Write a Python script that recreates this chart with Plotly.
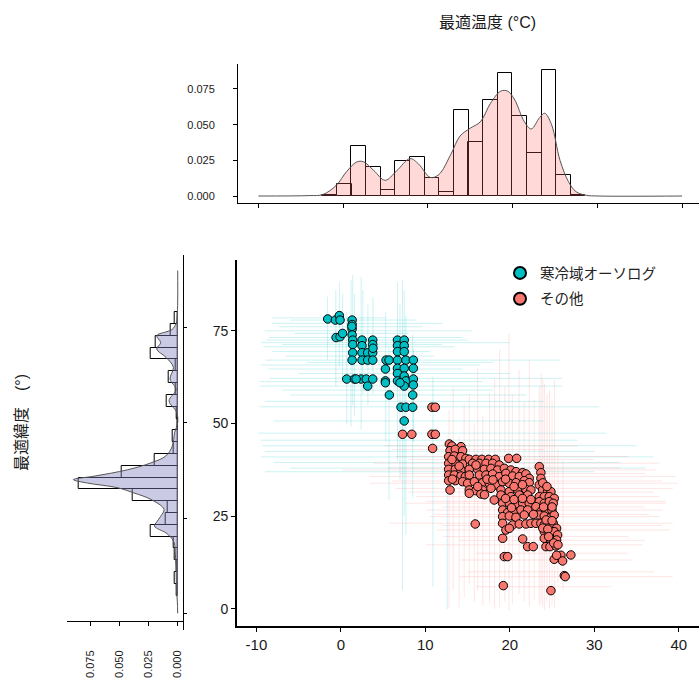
import plotly.graph_objects as go

# ---------------- data ----------------
cold_name = "寒冷域オーソログ"
other_name = "その他"

teal_x = [-1.56, -0.65, -0.18, -0.1, 1.33, 1.33, 1.33, -0.57, -0.1, 0.2, 1.33, 1.4, 2.5, 3.77,
          1.4, 2.5, 3.77, 6.7, 7.5, 6.7, 7.5, 1.4, 2.5, 3.17, 3.77, 1.33, 2.5, 3.17, 3.77, 5.35,
          6.7, 7.7, 8.58, 5.27, 6.7, 7.5, 8.58, 6.7, 7.5, 0.69, 1.6, 2.4, 3.0, 3.77, 5.27, 6.7,
          7.7, 8.58, 3.17, 7.5, 8.58, 5.74, 8.5, 7.12, 7.7, 8.5, 7.5, 1.3, 6.7, 7.5, 5.7, 1.8,
          3.8, 7.0, 5.27]
teal_y = [78.2, 77.9, 79.1, 77.9, 77.9, 76.7, 75.5, 73.2, 73.4, 74.3, 73.9, 72.5, 72.5, 72.5,
          71.3, 71.0, 71.3, 72.5, 72.5, 71.0, 71.0, 69.1, 69.1, 69.1, 69.1, 67.1, 67.1, 67.1, 67.1, 67.1,
          67.1, 67.1, 67.1, 64.7, 64.9, 64.9, 64.9, 63.5, 62.8, 62.0, 62.0, 62.0, 62.0, 62.0, 61.5, 61.5,
          61.5, 62.0, 60.1, 60.1, 60.4, 57.7, 57.7, 54.4, 54.4, 54.4, 50.7, 76.2, 69.4, 69.4, 67.1, 62.0,
          70.3, 61.0, 61.0]

red_x = [10.78, 11.18, 10.78, 11.18, 7.3, 8.4, 10.86,
         12.84, 13.15, 14.22, 12.92, 13.55, 14.41,
         12.76, 13.43, 14.22, 14.81,
         12.76, 13.63, 14.41,
         12.76, 13.55, 14.22,
         12.76, 13.43, 14.22, 14.73,
         12.76, 13.55, 14.41,
         12.92,
         15.2, 15.99, 16.7, 17.49, 18.28, 19.86, 20.81,
         15.6, 16.39, 17.18, 17.97, 18.75,
         15.2, 16.19, 16.98, 17.77, 18.56, 19.35, 20.13, 20.73, 21.52,
         15.2, 16.39, 17.18, 17.97, 18.75, 19.54, 20.33, 21.12, 21.91, 22.3,
         15.01, 15.8, 16.78, 17.57, 18.36, 19.15, 19.94, 20.73, 21.71, 22.3,
         15.2, 15.99, 16.78, 17.77, 18.95, 19.94, 20.92, 21.91, 22.5,
         15.2, 16.58, 18.16, 18.95, 20.13, 21.12, 22.11,
         23.49, 23.68, 23.68, 23.49, 23.88, 24.47, 24.87,
         23.49, 24.08, 24.67, 25.26,
         23.49, 24.08, 24.67, 25.14,
         19.15, 19.94, 20.73, 21.52, 22.3, 23.09,
         19.15, 19.74, 20.53, 21.32, 22.11, 21.71,
         23.68, 24.28, 24.99,
         19.15, 19.94, 20.73,
         23.49, 24.08, 24.87, 25.26,
         19.15, 20.33, 21.12, 21.91, 22.5, 23.09,
         23.68, 24.08, 24.67, 25.14, 25.54,
         19.54, 19.94,
         24.08, 24.67, 25.26, 25.66,
         19.15, 24.08, 24.87, 25.54,
         21.52,
         22.11, 22.78, 24.28, 24.75, 25.46,
         19.35, 19.74,
         15.91,
         25.26, 26.05, 26.25, 27.23, 25.54,
         26.45, 26.56,
         19.23, 24.87,
         13.15, 14.0, 13.2, 16.0, 17.3, 18.0, 19.5, 20.5, 21.5, 16.2, 17.0, 19.5, 20.5, 21.5,
         22.5, 23.9, 24.4, 24.0, 25.0, 24.3, 25.0, 23.9, 24.5, 20.2, 22.8, 24.6, 25.2, 25.7]
red_y = [54.4, 54.4, 47.1, 47.1, 47.1, 47.1, 43.3,
         44.48, 43.94, 43.76, 42.68, 43.04, 42.68,
         41.06, 41.24, 41.06, 40.61,
         39.27, 39.09, 39.09,
         37.65, 37.65, 37.47,
         36.12, 36.12, 35.85, 35.67,
         34.59, 34.59, 34.32,
         32.08,
         40.34, 40.34, 40.34, 40.34, 40.34, 40.61, 40.61,
         39.27, 39.27, 39.27, 39.27, 38.82,
         37.65, 37.65, 37.65, 37.92, 37.47, 37.92, 37.47, 37.02, 36.75,
         36.12, 36.12, 36.12, 36.39, 35.67, 36.57, 35.85, 35.67, 36.39, 35.22,
         33.87, 34.32, 34.05, 33.87, 33.43, 34.32, 33.87, 34.05, 34.59, 34.05,
         32.08, 31.9, 32.08, 32.53, 32.08, 31.63, 32.08, 32.26, 32.08,
         31.18, 31.0, 29.38, 30.73, 30.28, 30.73, 30.73,
         38.37, 36.75, 35.22, 33.43, 32.08, 31.63, 31.63,
         30.28, 30.28, 30.28, 29.83,
         28.93, 28.48, 28.93, 28.48,
         28.48, 28.48, 28.3, 28.48, 28.48, 27.59,
         26.69, 25.97, 26.24, 26.69, 26.69, 25.34,
         26.24, 26.69, 26.69,
         24.89, 25.07, 24.71,
         25.34, 25.07, 24.71, 25.34,
         23.09, 22.64, 22.91, 22.91, 23.09, 23.09,
         23.09, 22.64, 22.19, 23.09, 21.74,
         21.29, 21.74,
         20.85, 20.4, 20.85, 19.95,
         19.05, 19.05, 18.6, 18.6,
         18.87,
         16.8, 16.8, 16.8, 16.8, 16.98,
         14.11, 14.11,
         22.91,
         13.39, 14.47, 12.94, 14.56, 14.47,
         8.99, 8.72,
         6.29, 4.94,
         40.3, 38.5, 35.0, 38.8, 35.0, 34.8, 35.0, 33.0, 33.5, 33.0, 30.8, 29.8, 29.5, 29.8,
         29.5, 34.0, 33.0, 27.5, 27.5, 24.0, 23.8, 21.8, 21.5, 27.3, 25.5, 19.5, 17.8, 17.3]

# faint error bars (horizontal: y, low, high ; vertical: x, low, high)
teal_h_y = [78.5, 77.9, 77.0, 76.1, 75.0, 74.3, 73.2, 72.5, 71.8, 71.3, 70.7, 69.4, 68.2, 67.1, 66.5,
            65.8, 64.7, 63.5, 62.2, 61.3, 60.1, 59.0, 57.7, 56.0, 54.5, 50.7, 47.4, 45.5, 44.0, 42.5,
            41.0, 39.5, 38.0, 37.0]
teal_h_lo = [-8.1, -6.0, -8.2, -7.3, -9.0, -5.5, -8.5, -8.9, -9.5, -7.0, -9.2, -8.1, -6.5, -8.9, -4.0,
             -9.5, -8.6, -5.0, -8.5, -9.6, -9.6, -7.0, -6.0, -9.0, -9.6, -8.0, -9.8, -9.5, -9.3, -9.0,
             -9.5, -8.0, -6.0, -9.0]
teal_h_hi = [5.3, 9.0, 12.0, 9.7, 15.5, 8.0, 14.4, 15.0, 20.0, 12.0, 13.5, 10.5, 11.0, 25.9, 18.0,
             16.5, 14.4, 20.0, 26.2, 16.8, 26.2, 18.0, 22.0, 24.0, 30.6, 24.0, 31.4, 28.0, 35.0, 30.0,
             37.0, 33.0, 36.0, 30.0]
teal_v_x = [-1.6, -0.6, -0.18, 0.2, 0.7, 1.2, 1.4, 1.6, 2.4, 2.6, 3.2, 3.8, 5.3, 5.7, 6.7, 7.0, 7.3,
            7.5, 7.7, 8.5, 8.6, 10.9, 12.6]
teal_v_lo = [67.1, 60.0, 65.3, 62.0, 50.0, 49.2, 55.0, 52.0, 48.3, 58.0, 55.0, 58.0, 45.0, 29.4, 40.0,
             35.0, 5.1, 25.0, 20.0, 30.0, 45.0, 6.0, 0.0]
teal_v_hi = [84.2, 86.0, 88.2, 85.0, 80.0, 88.7, 90.0, 85.0, 89.6, 86.0, 82.0, 84.0, 80.0, 70.7, 88.0,
             82.0, 88.7, 86.0, 79.0, 74.0, 70.0, 62.6, 34.0]

red_h_y = [44.0, 43.0, 41.1, 40.3, 39.3, 38.0, 37.5, 36.5, 35.7, 34.5, 33.9, 32.5, 31.5, 30.3, 29.0,
           28.5, 27.5, 26.7, 25.5, 24.9, 23.1, 22.5, 21.3, 19.5, 18.5, 17.3, 15.0, 13.2, 10.0, 8.7, 6.0]
red_h_lo = [5.0, 6.0, 6.5, 8.0, 3.8, 5.5, 0.2, 7.0, 3.4, 6.0, 3.4, 6.5, 8.0, 8.9, 10.0,
            7.7, 12.0, 10.1, 11.0, 10.5, 5.7, 12.0, 11.3, 12.1, 14.0, 10.1, 16.0, 14.0, 15.0, 14.0, 16.0]
red_h_hi = [28.0, 24.0, 34.0, 30.0, 37.7, 33.0, 37.3, 36.0, 39.7, 38.0, 39.9, 39.3, 37.0, 37.7, 38.5,
            38.5, 36.0, 38.1, 36.5, 37.7, 39.3, 38.0, 38.9, 34.1, 36.0, 35.7, 34.0, 34.5, 37.0, 39.3, 32.0]
red_v_x = [12.8, 13.3, 14.0, 14.6, 15.2, 15.8, 16.2, 16.8, 17.6, 18.2, 18.8, 19.4, 19.9, 20.3, 21.1,
           21.7, 22.3, 22.9, 23.5, 23.7, 23.9, 24.1, 24.4, 24.7, 25.0, 25.3, 25.7, 26.3]
red_v_lo = [0.2, 5.0, 0.5, 3.0, 6.7, 2.0, 5.0, 1.0, 1.5, 0.0, 0.5, 2.0, -0.3, 1.5, 4.0,
            2.0, 0.6, 2.5, 1.0, 1.5, 0.5, -0.3, 2.0, 0.2, 1.0, 0.2, 7.0, 5.0]
red_v_hi = [53.6, 60.0, 46.5, 55.0, 58.0, 50.0, 65.0, 52.0, 58.0, 62.0, 70.0, 60.0, 74.3, 58.0, 64.5,
            56.0, 67.0, 56.3, 60.0, 63.5, 62.0, 60.8, 58.0, 59.0, 56.0, 61.7, 43.0, 40.0]

# marginal histogram of optimal temperature (density scale)
temp_bin_centers = [-1.60, 0.13, 1.85, 3.58, 5.31, 7.03, 8.76, 10.48, 12.21, 13.94, 15.66, 17.39,
                    19.11, 20.84, 22.57, 24.29, 26.02, 27.74]
temp_bin_width = 1.726
temp_hist = [0.0008, 0.0086, 0.035, 0.0206, 0.004, 0.0245, 0.0276, 0.0129, 0.003, 0.060, 0.038,
             0.067, 0.0864, 0.056, 0.030, 0.088, 0.0145, 0.0005]
temp_dens_x = [-10, -4.0, -2.4, -0.8, 0.4, 1.6, 2.4, 3.6, 4.96, 6.3, 7.9, 8.9, 10.3, 11.3, 12.7,
               13.8, 15.0, 16.2, 17.4, 18.6, 19.4, 20.2, 21.4, 22.2, 23.2, 23.8, 24.6, 25.6, 26.6,
               27.5, 28.7, 30.1, 40]
temp_dens = [0, 0.0003, 0.001, 0.0075, 0.017, 0.0238, 0.024, 0.018, 0.011, 0.0175, 0.0262, 0.0225,
             0.013, 0.015, 0.029, 0.042, 0.0475, 0.052, 0.065, 0.0735, 0.0735, 0.068, 0.052, 0.047,
             0.055, 0.058, 0.050, 0.025, 0.010, 0.003, 0.0005, 0, 0]

# marginal histogram of optimal latitude (density scale)
lat_bin_centers = [6.15, 9.26, 12.36, 15.47, 18.57, 21.67, 24.78, 27.88, 30.99, 34.09, 37.19, 40.30,
                   43.40, 46.50, 49.61, 52.71, 55.82, 58.92, 62.02, 65.13, 68.23, 71.34, 74.44, 77.54]
lat_bin_width = 3.104
lat_hist = [0.0009, 0.0023, 0.001, 0.0026, 0.0037, 0.0235, 0.010, 0.009, 0.0385, 0.0855, 0.048,
            0.020, 0.0037, 0.0045, 0.0003, 0.0005, 0.0092, 0.0015, 0.0075, 0.0016, 0.0228, 0.0185,
            0.006, 0.003]
lat_dens_y = [0, 3, 6.2, 9, 12.4, 15.5, 18.5, 20, 21.1, 22.9, 24, 25.5, 27.3, 29.9, 31.6, 33.0, 34.2,
              35.1, 36.0, 37.7, 39.5, 41.3, 43.9, 47.5, 50.1, 52.8, 55.8, 58.8, 61.5, 64.6, 67.2,
              69.4, 71.1, 72.9, 74.5, 76, 78, 82, 90]
lat_dens = [0, 0.0003, 0.001, 0.0012, 0.0014, 0.002, 0.003, 0.006, 0.010, 0.020, 0.018, 0.0146,
            0.0117, 0.023, 0.0375, 0.052, 0.0776, 0.0897, 0.072, 0.043, 0.023, 0.0103, 0.0046,
            0.0026, 0.0, 0.0009, 0.0074, 0.0014, 0.0066, 0.0037, 0.010, 0.018, 0.0146, 0.018,
            0.005, 0.0015, 0.0005, 0, 0]

x_ticks = [-10, 0, 10, 20, 30, 40]
x_tick_text = ["-10", "0", "10", "20", "30", "40"]
y_ticks = [0, 25, 50, 75]
dens_ticks = [0, 0.025, 0.05, 0.075]
dens_tick_text = ["0.000", "0.025", "0.050", "0.075"]

# ---------------- style ----------------
TEAL = "#00BFC4"
RED = "#F8766D"
W, H = 699, 682
FONT = "Liberation Sans, Arial, Noto Sans CJK JP, sans-serif"
CJK = "Noto Sans CJK JP, Liberation Sans, sans-serif"


def px(v):
    return v / W


def py(v):
    return 1 - v / H


fig = go.Figure()


def err_h(ys, lo, hi, color):
    return go.Scatter(
        x=[(a + b) / 2 for a, b in zip(lo, hi)], y=ys, mode="markers",
        marker=dict(size=1, opacity=0), showlegend=False, hoverinfo="skip",
        error_x=dict(type="data", array=[(b - a) / 2 for a, b in zip(lo, hi)],
                     color=color, thickness=1, width=0),
        xaxis="x", yaxis="y")


def err_v(xs, lo, hi, color):
    return go.Scatter(
        x=xs, y=[(a + b) / 2 for a, b in zip(lo, hi)], mode="markers",
        marker=dict(size=1, opacity=0), showlegend=False, hoverinfo="skip",
        error_y=dict(type="data", array=[(b - a) / 2 for a, b in zip(lo, hi)],
                     color=color, thickness=1, width=0),
        xaxis="x", yaxis="y")


TEAL_E = "rgba(0,191,196,0.2)"
RED_E = "rgba(248,118,109,0.18)"
fig.add_trace(err_h(teal_h_y, teal_h_lo, teal_h_hi, TEAL_E))
fig.add_trace(err_v(teal_v_x, teal_v_lo, teal_v_hi, TEAL_E))
fig.add_trace(err_h(red_h_y, red_h_lo, red_h_hi, RED_E))
fig.add_trace(err_v(red_v_x, red_v_lo, red_v_hi, RED_E))

fig.add_trace(go.Scatter(
    x=teal_x, y=teal_y, mode="markers", name=cold_name, legendgroup="a",
    marker=dict(color=TEAL, size=8.5, line=dict(color="black", width=1)),
    xaxis="x", yaxis="y"))
fig.add_trace(go.Scatter(
    x=red_x, y=red_y, mode="markers", name=other_name, legendgroup="b",
    marker=dict(color=RED, size=8.5, line=dict(color="black", width=1)),
    xaxis="x", yaxis="y"))

# top marginal
fig.add_trace(go.Bar(
    x=temp_bin_centers, y=temp_hist, width=temp_bin_width,
    marker=dict(color="rgba(0,0,0,0)", line=dict(color="black", width=1)),
    showlegend=False, xaxis="x2", yaxis="y2"))
fig.add_trace(go.Scatter(
    x=temp_dens_x, y=temp_dens, mode="lines", fill="tozeroy",
    fillcolor="rgba(255,100,100,0.25)", line=dict(color="#555555", width=1, shape="spline"),
    showlegend=False, xaxis="x2", yaxis="y2"))

# left marginal
fig.add_trace(go.Bar(
    y=lat_bin_centers, x=lat_hist, width=lat_bin_width, orientation="h",
    marker=dict(color="rgba(0,0,0,0)", line=dict(color="black", width=1)),
    showlegend=False, xaxis="x3", yaxis="y3"))
fig.add_trace(go.Scatter(
    x=lat_dens, y=lat_dens_y, mode="lines", fill="tozerox",
    fillcolor="rgba(128,128,192,0.42)", line=dict(color="#555555", width=1, shape="spline"),
    showlegend=False, xaxis="x3", yaxis="y3"))

axis_common = dict(showgrid=False, zeroline=False, showline=True, linecolor="black",
                   ticks="outside", tickcolor="black")

fig.update_layout(
    width=W, height=H, margin=dict(l=0, r=0, t=0, b=0),
    paper_bgcolor="white", plot_bgcolor="white",
    font=dict(family=FONT, color="#1a1a1a"),
    xaxis=dict(domain=[px(237), 1.0], range=[-12.3, 42.4], anchor="y",
               tickvals=x_ticks, ticktext=x_tick_text, ticklen=4, linewidth=1.6,
               tickfont=dict(size=15, family=FONT, color="#1a1a1a"), **axis_common),
    yaxis=dict(domain=[py(626), py(260)], range=[-4.6, 94.1], anchor="x",
               tickvals=y_ticks, ticklen=4, linewidth=1.6,
               tickfont=dict(size=14, family=FONT, color="#1a1a1a"), **axis_common),
    xaxis2=dict(domain=[px(238), 1.0], range=[-12.4, 42.0], anchor="y2",
                tickvals=x_ticks, showticklabels=False, ticklen=4, linewidth=1,
                **axis_common),
    yaxis2=dict(domain=[py(203), py(64)], range=[-0.0049, 0.0925], anchor="x2",
                tickvals=dens_ticks, ticktext=dens_tick_text, ticklen=4, linewidth=1,
                ticklabelstandoff=16,
                tickfont=dict(size=11, family=FONT, color="#1a1a1a"), **axis_common),
    xaxis3=dict(domain=[px(66.7), px(182.7)], range=[0.0954, -0.0043], anchor="free",
                position=py(621), tickvals=dens_ticks, ticktext=dens_tick_text,
                tickangle=-90, ticklen=4, linewidth=1, ticklabelstandoff=20,
                tickfont=dict(size=11, family=FONT, color="#1a1a1a"), **axis_common),
    yaxis3=dict(domain=[py(630), py(255)], range=[-4.39, 94.1], anchor="x3", side="right",
                tickvals=y_ticks, showticklabels=False, ticklen=3, linewidth=1,
                **axis_common),
    legend=dict(x=px(500), y=py(257), xanchor="left", yanchor="top",
                bgcolor="rgba(0,0,0,0)", itemsizing="constant", tracegroupgap=4,
                font=dict(size=14.5, family=CJK, color="#222222")),
    bargap=0,
    annotations=[
        dict(text="最適温度 (°C)", x=px(487), y=py(23), xref="paper", yref="paper",
             showarrow=False, xanchor="center", yanchor="middle",
             font=dict(size=16, family=FONT, color="#1a1a1a")),
        dict(text="最適緯度　(°)", x=px(21), y=py(423), xref="paper", yref="paper",
             showarrow=False, xanchor="center", yanchor="middle", textangle=-90,
             font=dict(size=16, family=FONT, color="#1a1a1a")),
    ],
)

fig.write_html("out.html", config={"displayModeBar": False},
               post_script="document.body.style.margin='0';")
